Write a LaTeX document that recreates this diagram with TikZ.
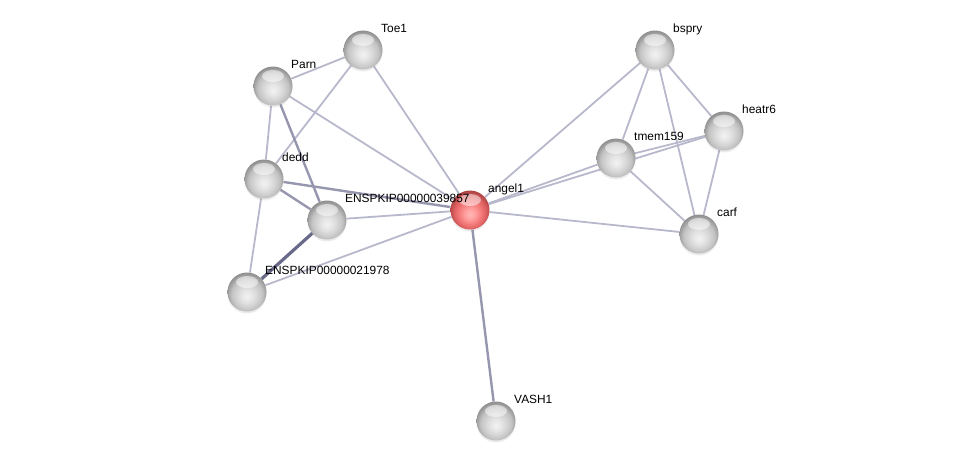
\documentclass[tikz,border=0pt]{standalone}
\usepackage{fontspec}
\setmainfont{Liberation Sans}
\usetikzlibrary{backgrounds,shadows,fadings}

\definecolor{edgelight}{RGB}{184,184,204}
\definecolor{edgemid}{RGB}{150,150,175}
\definecolor{edgedark}{RGB}{105,105,138}

% sombreado de las esferas
\pgfdeclareradialshading{graysphere}{\pgfpoint{0bp}{-6bp}}{%
  color(0bp)=(white!95!black); color(7bp)=(white!90!black);
  color(14bp)=(white!83!black); color(20bp)=(white!76!black);
  color(25bp)=(white!62!black); color(30bp)=(white!50!black);
  color(50bp)=(white!50!black)}
\pgfdeclareradialshading{redsphere}{\pgfpoint{0bp}{-6bp}}{%
  color(0bp)=(red!28!white); color(7bp)=(red!38!white);
  color(14bp)=(red!50!white!96!black); color(20bp)=(red!56!white!88!black);
  color(25bp)=(red!60!white!74!black); color(30bp)=(red!60!white!62!black);
  color(50bp)=(red!60!white!62!black)}

\begin{document}
\begin{tikzpicture}[x=1pt, y=-1pt,
  prot/.style={circle, minimum size=39pt, inner sep=0pt, shading=graysphere,
    drop shadow={opacity=0.15, shadow xshift=0pt, shadow yshift=-2pt},
    path picture={\fill[white, opacity=0.5, path fading=circle with fuzzy edge 15 percent]
      ([yshift=10pt]path picture bounding box.center) ellipse (11pt and 6pt);}},
  query/.style={prot, shading=redsphere},
  lbl/.style={anchor=base west, inner sep=0pt, font=\fontsize{11.9}{13}\selectfont},
  lnk/.style={draw=edgelight, line width=1.8pt},
  lnkmid/.style={draw=edgemid, line width=2.4pt},
  lnkdark/.style={draw=edgedark, line width=3.2pt}]
  \useasboundingbox (0,0) rectangle (975,467);
  % proteinas
  \node[prot]  (Toe1)    at (363,50)  {};
  \node[prot]  (Parn)    at (273,86)  {};
  \node[prot]  (dedd)    at (264,179) {};
  \node[prot]  (ens857)  at (327,220) {};
  \node[prot]  (ens978)  at (247,292) {};
  \node[query] (angel1)  at (470,210) {};
  \node[prot]  (VASH1)   at (496,421) {};
  \node[prot]  (bspry)   at (655,50)  {};
  \node[prot]  (heatr6)  at (724,131) {};
  \node[prot]  (tmem159) at (616,158) {};
  \node[prot]  (carf)    at (699,234) {};
  % enlaces (debajo de los nodos)
  \begin{pgfonlayer}{background}
    \foreach \a/\b in {Parn/Toe1, Parn/dedd, Parn/angel1, Toe1/dedd, Toe1/angel1,
        dedd/ens978, ens857/angel1, ens978/angel1,
        angel1/bspry, angel1/tmem159, angel1/heatr6, angel1/carf,
        bspry/tmem159, bspry/heatr6, bspry/carf,
        tmem159/heatr6, tmem159/carf, heatr6/carf}
      \path[lnk] (\a) -- (\b);
    \path[lnkmid] (angel1) -- (VASH1);
    \path[lnkmid] (Parn) -- (ens857);
    \path[lnkmid] (dedd) -- (ens857);
    \path[lnkmid] (dedd) -- (angel1);
    \path[lnkdark] (ens857) -- (ens978);
  \end{pgfonlayer}
  % etiquetas
  \foreach \n/\t in {Toe1/Toe1, Parn/Parn, dedd/dedd, ens857/ENSPKIP00000039857,
      ens978/ENSPKIP00000021978, angel1/angel1, VASH1/VASH1, bspry/bspry,
      heatr6/heatr6, tmem159/tmem159, carf/carf}
    \node[lbl] (\n-lbl) at ([shift={(18,-18)}]\n.center) {\t};
\end{tikzpicture}
\end{document}
